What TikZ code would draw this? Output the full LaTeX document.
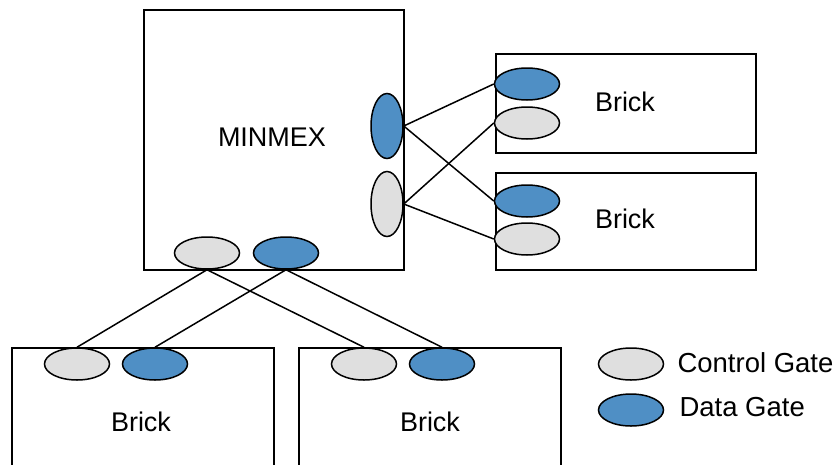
\documentclass[tikz,border=0pt]{standalone}
\usepackage{fontspec}
\setmainfont{Liberation Sans}
\usetikzlibrary{shapes.geometric}
\definecolor{datablue}{HTML}{4F8FC5}
\definecolor{ctrlgray}{HTML}{DFDFDF}
\tikzset{
  unit/.style={draw, line width=1.5pt, inner sep=0pt, anchor=north west},
  gate/.style={ellipse, draw, line width=1.5pt, inner sep=0pt},
  hgate/.style={gate, minimum width=65pt, minimum height=32pt},
  vgate/.style={gate, minimum width=32pt, minimum height=65pt},
  ctrl/.style={fill=ctrlgray},
  data/.style={fill=datablue},
  wire/.style={line width=1.5pt},
  lbl/.style={font=\fontsize{27}{32}\selectfont},
  leglbl/.style={font=\fontsize{27.5}{32}\selectfont, anchor=west}
}
\begin{document}
\begin{tikzpicture}[x=1pt, y=-1pt]
\useasboundingbox (0,0) rectangle (836,464);
\clip (0,0) rectangle (836,464);

% main unit and bricks
\node[unit, minimum width=260pt, minimum height=260pt] (minmex) at (143,9) {};
\node[lbl] (minmexlbl) at (272,137) {MINMEX};
\node[unit, minimum width=260pt, minimum height=99pt] (brickA) at (495,53) {};
\node[lbl] (brickAlbl) at (625,102) {Brick};
\node[unit, minimum width=260pt, minimum height=97pt] (brickB) at (495,172) {};
\node[lbl] (brickBlbl) at (625,219) {Brick};
\node[unit, minimum width=262pt, minimum height=140pt] (brickC) at (11,347) {};
\node[lbl] (brickClbl) at (141,422) {Brick};
\node[unit, minimum width=262pt, minimum height=140pt] (brickD) at (298,347) {};
\node[lbl] (brickDlbl) at (430,422) {Brick};

% gates
\node[vgate, data] (mD) at (387,126) {};
\node[vgate, ctrl] (mC) at (387,204) {};
\node[hgate, ctrl] (mCB) at (207,253) {};
\node[hgate, data] (mDB) at (286,253) {};
\node[hgate, data] (aD) at (527,84) {};
\node[hgate, ctrl] (aC) at (527,123) {};
\node[hgate, data] (bD) at (527,201) {};
\node[hgate, ctrl] (bC) at (527,239) {};
\node[hgate, ctrl] (cC) at (77,364) {};
\node[hgate, data] (cD) at (155,364) {};
\node[hgate, ctrl] (dC) at (364,364) {};
\node[hgate, data] (dD) at (442,364) {};

% wires between gates
\draw[wire] (mD.east) -- (aD.west);
\draw[wire] (mD.east) -- (bD.west);
\draw[wire] (mC.east) -- (aC.west);
\draw[wire] (mC.east) -- (bC.west);
\draw[wire] (mCB.south) -- (cC.north);
\draw[wire] (mCB.south) -- (dC.north);
\draw[wire] (mDB.south) -- (cD.north);
\draw[wire] (mDB.south) -- (dD.north);

% legend
\node[hgate, ctrl] (legC) at (631,364) {};
\node[leglbl] (legClbl) at (674,363) {Control Gate};
\node[hgate, data] (legD) at (631,410) {};
\node[leglbl] (legDlbl) at (676,407) {Data Gate};
\end{tikzpicture}
\end{document}
